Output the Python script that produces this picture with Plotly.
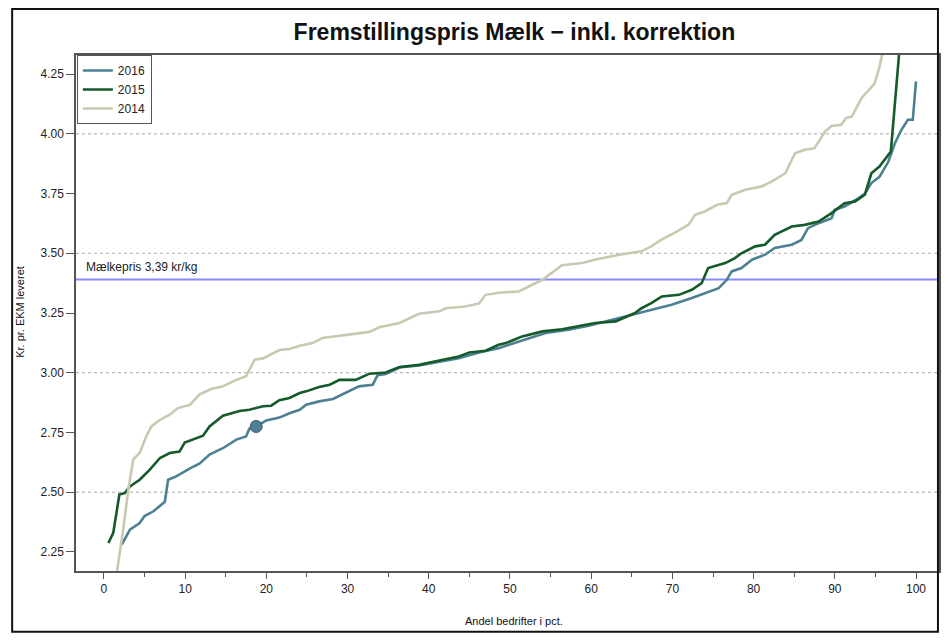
import plotly.graph_objects as go

# ---------------- data ----------------
x_2016 = [2.2, 3.2, 4.4, 5.0, 6.1, 7.1, 7.5, 7.9, 8.9, 10.6, 11.8, 13.0, 14.7, 16.3, 17.5, 17.9,
          18.75, 20.0, 21.6, 22.85, 24.1, 24.9, 26.5, 28.2, 29.8, 31.4, 33.1, 33.7, 34.7, 36.4,
          38.8, 41.3, 43.7, 46.2, 48.6, 51.1, 54.4, 57.2, 59.7, 62.6, 65.0, 67.5, 69.9, 72.4,
          74.0, 75.7, 76.7, 77.3, 78.5, 79.8, 81.4, 82.6, 84.7, 85.9, 86.7, 88.0, 89.6, 90.0,
          91.2, 92.9, 93.7, 94.5, 95.5, 96.6, 97.4, 98.2, 99.0, 99.6, 100.0]
y_2016 = [2.28, 2.343, 2.371, 2.40, 2.42, 2.448, 2.46, 2.552, 2.566, 2.60, 2.62, 2.657, 2.685,
          2.72, 2.733, 2.765, 2.775, 2.80, 2.812, 2.83, 2.845, 2.866, 2.88, 2.89, 2.915, 2.943,
          2.95, 2.99, 2.995, 3.022, 3.03, 3.045, 3.061, 3.085, 3.103, 3.131, 3.166, 3.18, 3.197,
          3.222, 3.243, 3.264, 3.285, 3.313, 3.333, 3.354, 3.389, 3.424, 3.438, 3.473, 3.494,
          3.522, 3.536, 3.556, 3.605, 3.626, 3.647, 3.682, 3.696, 3.73, 3.75, 3.794, 3.82,
          3.884, 3.961, 4.017, 4.059, 4.059, 4.22]

x_2015 = [0.55, 1.15, 1.9, 2.6, 3.2, 4.4, 5.65, 6.9, 8.1, 9.3, 9.95, 12.2, 13.0, 14.65, 16.7,
          17.9, 19.6, 20.6, 21.6, 22.85, 24.1, 24.9, 26.5, 27.8, 29.0, 31.0, 32.7, 34.7, 36.4,
          38.8, 41.3, 43.7, 45.0, 47.0, 48.6, 49.5, 51.5, 54.0, 56.4, 58.5, 60.5, 63.0, 64.2,
          65.4, 66.2, 67.4, 68.7, 70.8, 72.4, 73.6, 74.4, 75.7, 76.5, 77.7, 78.5, 80.2, 81.4,
          82.6, 84.7, 86.3, 88.0, 89.6, 91.2, 92.5, 93.7, 94.5, 95.5, 96.9, 98.2]
y_2015 = [2.287, 2.33, 2.49, 2.497, 2.524, 2.552, 2.594, 2.643, 2.664, 2.67, 2.708, 2.736, 2.775,
          2.82, 2.84, 2.845, 2.86, 2.862, 2.885, 2.894, 2.915, 2.922, 2.94, 2.95, 2.97, 2.97,
          2.996, 3.001, 3.024, 3.033, 3.051, 3.068, 3.085, 3.092, 3.117, 3.124, 3.152, 3.173,
          3.182, 3.194, 3.208, 3.215, 3.233, 3.25, 3.27, 3.291, 3.319, 3.326, 3.347, 3.375,
          3.438, 3.452, 3.459, 3.48, 3.50, 3.529, 3.536, 3.577, 3.612, 3.619, 3.633, 3.668,
          3.71, 3.717, 3.745, 3.835, 3.863, 3.926, 4.45]

x_2014 = [1.4, 2.37, 3.0, 3.6, 4.4, 5.2, 5.85, 6.9, 8.1, 9.1, 10.6, 11.8, 13.2, 14.65, 16.3,
          17.5, 18.55, 19.6, 21.6, 22.85, 24.1, 25.7, 26.9, 29.0, 29.8, 32.7, 33.9, 36.4, 38.8,
          41.3, 42.1, 44.5, 46.2, 47.0, 48.6, 51.1, 52.3, 54.0, 56.4, 58.9, 60.7, 63.8, 66.2,
          67.4, 68.6, 70.3, 72.0, 72.8, 74.0, 75.5, 76.7, 77.3, 79.0, 81.0, 82.2, 83.9, 85.1,
          86.3, 87.5, 88.8, 89.6, 90.8, 91.4, 92.1, 93.3, 94.1, 94.9, 95.5, 96.0, 96.5]
y_2014 = [2.12, 2.343, 2.51, 2.636, 2.664, 2.733, 2.775, 2.803, 2.824, 2.852, 2.866, 2.91, 2.932,
          2.943, 2.97, 2.985, 3.054, 3.06, 3.095, 3.099, 3.113, 3.124, 3.145, 3.155, 3.159,
          3.171, 3.19, 3.208, 3.247, 3.257, 3.27, 3.277, 3.29, 3.326, 3.335, 3.34, 3.361, 3.389,
          3.45, 3.459, 3.475, 3.496, 3.508, 3.529, 3.556, 3.586, 3.62, 3.661, 3.675, 3.703,
          3.71, 3.745, 3.766, 3.78, 3.80, 3.835, 3.919, 3.933, 3.94, 4.01, 4.033, 4.038, 4.066,
          4.073, 4.15, 4.18, 4.21, 4.28, 4.36, 4.6]

highlight_x = [18.75]
highlight_y = [2.775]

milk_price = 3.39
milk_label = "Mælkepris 3,39 kr/kg"
grid_levels = [2.5, 3.0, 3.5, 4.0]
y_ticks = [2.25, 2.5, 2.75, 3.0, 3.25, 3.5, 3.75, 4.0, 4.25]
x_ticks = [0, 10, 20, 30, 40, 50, 60, 70, 80, 90, 100]

title_text = "Fremstillingspris Mælk − inkl. korrektion"
x_title = "Andel bedrifter i pct."
y_title = "Kr. pr. EKM leveret"

# ---------------- figure ----------------
C16 = "#4d8093"
C15 = "#145a2a"
C14 = "#c9c9b2"
FONT = "Arial, Liberation Sans, sans-serif"

W, H = 934, 625   # page body has an 8px margin; keep page free of scrollbars
fig = go.Figure()
fig.add_trace(go.Scatter(x=x_2016, y=y_2016, mode="lines", name="2016",
                         line=dict(color=C16, width=2.6)))
fig.add_trace(go.Scatter(x=x_2015, y=y_2015, mode="lines", name="2015",
                         line=dict(color=C15, width=2.6)))
fig.add_trace(go.Scatter(x=x_2014, y=y_2014, mode="lines", name="2014",
                         line=dict(color=C14, width=2.6)))
fig.add_trace(go.Scatter(x=highlight_x, y=highlight_y, mode="markers", showlegend=False,
                         marker=dict(size=12, color=C16, line=dict(color="#2e5c6a", width=1))))

shapes = []
for g in grid_levels:
    shapes.append(dict(type="line", xref="paper", x0=0, x1=1, yref="y", y0=g, y1=g,
                       line=dict(color="#a8a8a8", width=1, dash="dot"), layer="below"))
shapes.append(dict(type="line", xref="paper", x0=0, x1=1, yref="y", y0=milk_price, y1=milk_price,
                   line=dict(color="#8a8aff", width=2), layer="below"))
# outer frame
shapes.append(dict(type="rect", xref="paper", yref="paper", x0=-0.074, x1=0.9988,
                   y0=-0.1175, y1=1.089, line=dict(color="#111111", width=2)))
fig.update_layout(shapes=shapes)

fig.update_layout(
    width=W, height=H,
    margin=dict(l=68, r=1, t=47, b=62),
    paper_bgcolor="white", plot_bgcolor="white",
    font=dict(family=FONT, size=12, color="#222222"),
    title=dict(text="<b>" + title_text + "</b>", x=0.508, xref="paper", xanchor="center",
               y=1 - 24 / H, yref="container", yanchor="middle",
               font=dict(family=FONT, size=23, color="#111111")),
    showlegend=True,
    legend=dict(x=0.001, y=1, xanchor="left", yanchor="top", bgcolor="white",
                bordercolor="#555555", borderwidth=1, font=dict(size=12, color="#222222"),
                tracegroupgap=0, itemwidth=30),
    xaxis=dict(range=[-3.44, 102.83], tickvals=x_ticks, ticks="outside", ticklen=6,
               tickcolor="#555555", showline=True, linecolor="#555555", linewidth=1.5,
               mirror=True, showgrid=False, zeroline=False,
               minor=dict(dtick=5, tick0=5, ticks="outside", ticklen=4, tickcolor="#555555"),
               tickfont=dict(size=12, color="#222222")),
    yaxis=dict(range=[2.17, 4.33], tickvals=y_ticks, tickformat=".2f", ticks="outside",
               ticklen=8, tickcolor="#555555", showline=True, linecolor="#555555",
               linewidth=1.5, mirror=True, showgrid=False, zeroline=False,
               tickfont=dict(size=12, color="#222222")),
    annotations=[
        dict(text=milk_label, xref="paper", x=0.009, y=milk_price, yref="y",
             xanchor="left", yanchor="bottom", yshift=4, showarrow=False,
             font=dict(size=12, color="#222222")),
        dict(text=x_title, xref="paper", yref="paper", x=0.508, y=-0.097,
             xanchor="center", yanchor="middle", showarrow=False,
             font=dict(size=11, color="#111111")),
        dict(text=y_title, xref="paper", yref="paper", x=-0.065, y=0.502,
             xanchor="center", yanchor="middle", textangle=-90, showarrow=False,
             font=dict(size=11, color="#111111")),
    ],
)

fig.write_html("out.html")
